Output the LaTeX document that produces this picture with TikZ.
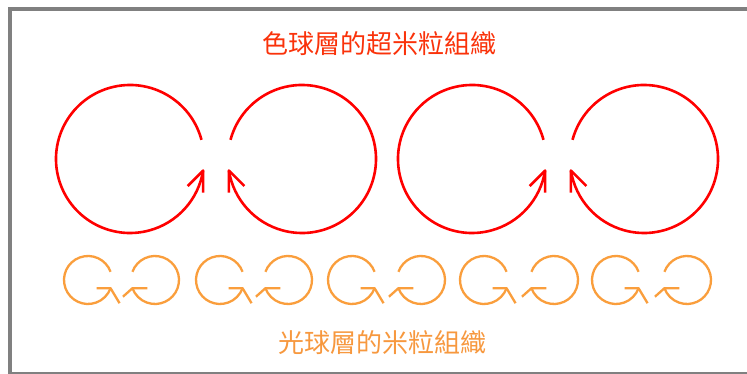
\documentclass[tikz,border=0pt]{standalone}
\usepackage{fontspec}
\newfontfamily\cjk{Noto Sans CJK TC}
\definecolor{bigred}{RGB}{255,0,0}
\definecolor{smallorange}{RGB}{250,158,60}
\definecolor{titlered}{RGB}{250,50,10}
\definecolor{subtorange}{RGB}{247,152,62}
\definecolor{framegray}{RGB}{128,128,128}
\tikzset{
  bigline/.style={draw=bigred, line width=2.6pt, line join=round},
  smallline/.style={draw=smallorange, line width=2.3pt, line join=round},
  bigG/.pic={
    \draw[bigline] (15:74) arc[start angle=15, end angle=351, radius=74];
    \draw[bigline] (351:74) ++(0,-22) -- ++(0,22) -- ++(-15.5,-15.5);
  },
  smallG/.pic={
    \draw[smallline] (20:24) arc[start angle=20, end angle=340, radius=24];
    \draw[smallline] (340:24) ++(-14,0) -- ++(14,0) -- ++(9,-15);
  },
  smallGm/.pic={
    \draw[smallline] (20:24) arc[start angle=20, end angle=340, radius=24];
    \draw[smallline] (340:24) ++(-15,0) -- ++(15,0) -- ++(9.5,-8.5);
  },
  titletext/.style={font=\cjk\fontsize{26}{26}\selectfont, inner sep=0pt},
}
\begin{document}
\begin{tikzpicture}[x=1pt, y=1pt]
\useasboundingbox (0,0) rectangle (747,374);
\fill[white] (0,0) rectangle (747,374);
\draw[framegray, line width=3.5pt] (10,0.5) rectangle (780,365);
% chromosphere supergranules
\foreach \cx in {130,472} {
  \pic at (\cx,215) {bigG};
  \pic[xscale=-1] at (\cx+172,215) {bigG};
}
% photosphere granules
\foreach \k in {0,...,4} {
  \pic at (88+132*\k,94) {smallG};
  \pic[xscale=-1] at (155+133*\k,94) {smallGm};
}
\node[titletext, text=titlered] (title) at (379,330) {色球層的超米粒組織};
\node[titletext, text=subtorange] (subtitle) at (382.5,31.5) {光球層的米粒組織};
\end{tikzpicture}
\end{document}
